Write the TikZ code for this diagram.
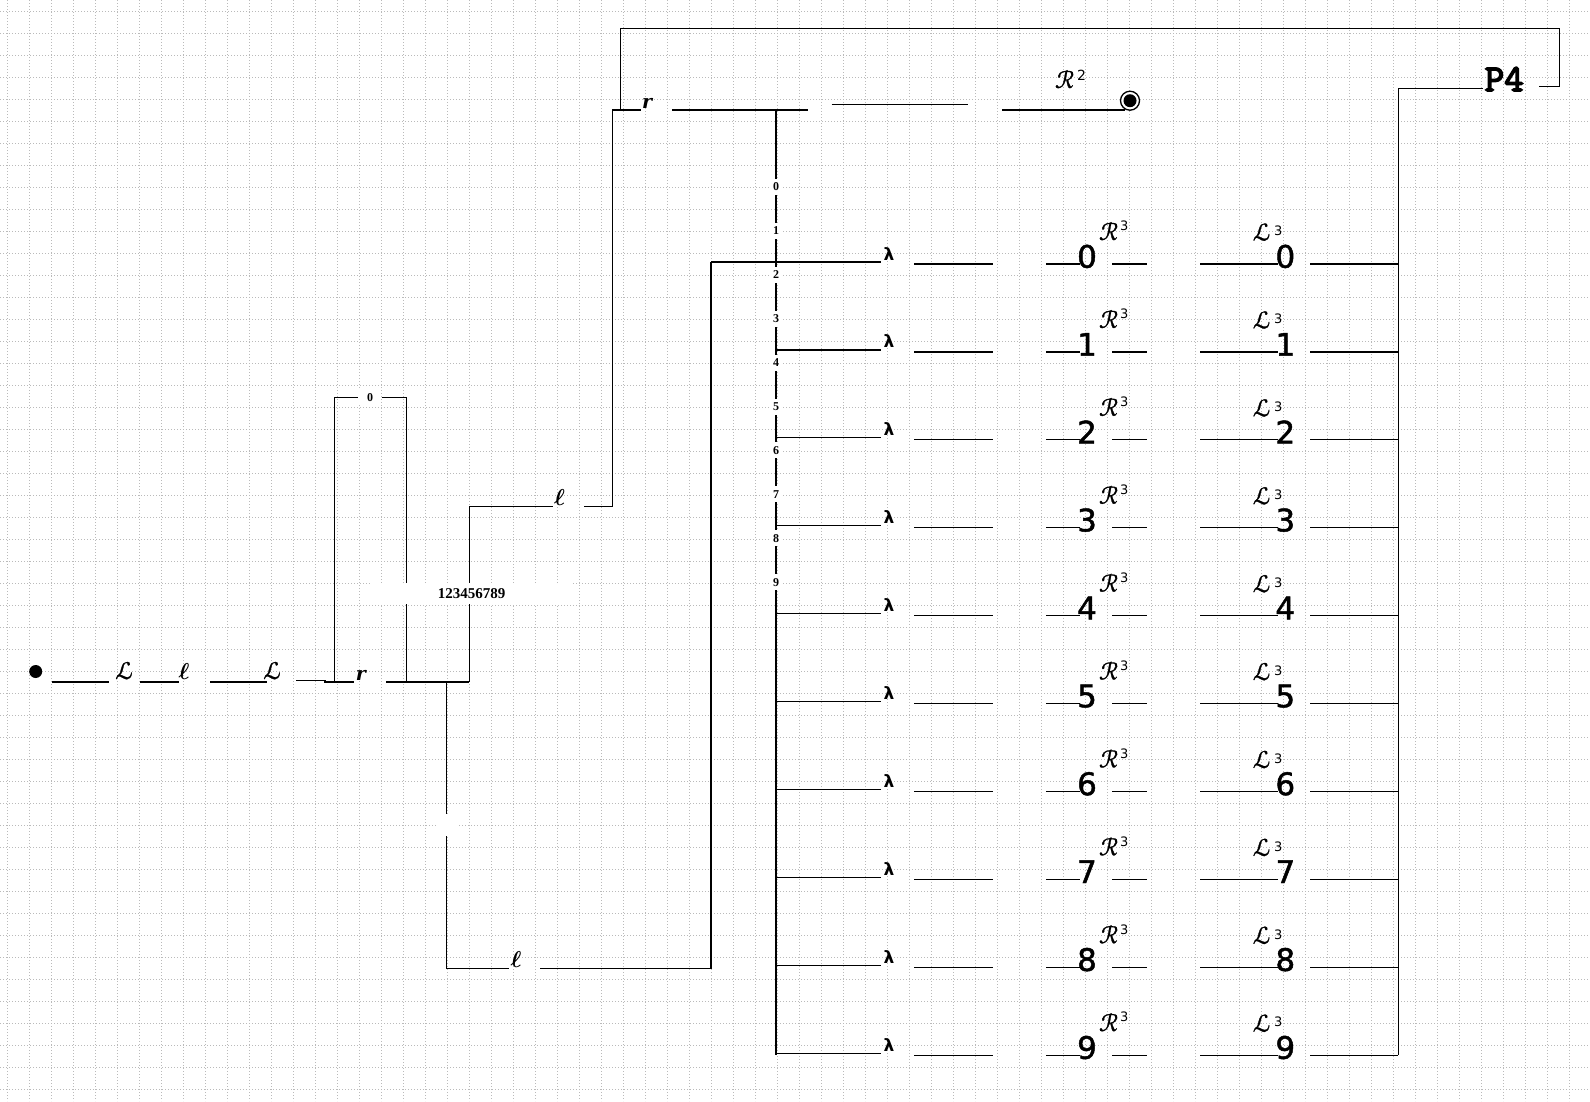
\documentclass[tikz,border=0pt]{standalone}
\usepackage{fix-cm}
\usepackage{fontspec}
\newfontfamily\fSym{DejaVu Sans}
\newfontfamily\fScr{DejaVu Sans}[FakeSlant=0.18, FakeBold=1.2]
\newfontfamily\fDig{DejaVu Sans}[FakeBold=1.5]
\newfontfamily\fSer{DejaVu Serif}
\newfontfamily\fTT{Latin Modern Mono}[FakeBold=4]
\newfontfamily\fLib{Liberation Serif}
\begin{document}
\begin{tikzpicture}[x=1pt,y=-1pt,
  gridl/.style={draw=black!27, line width=0.7pt, dash pattern=on 1pt off 2pt},
  ln/.style={draw=black, line width=1.2pt},
  scr/.style={inner sep=0pt, anchor=base, font=\fScr\fontsize{23}{23}\selectfont},
  ellx/.style={inner sep=0pt, anchor=base, font=\boldmath\fontsize{23}{23}\selectfont},
  ital/.style={inner sep=0pt, anchor=base, font=\fSer\bfseries\itshape\fontsize{19}{19}\selectfont},
  lam/.style={inner sep=0pt, anchor=base, font=\fSym\bfseries\fontsize{17}{17}\selectfont},
  big/.style={inner sep=0pt, anchor=base, font=\fDig\fontsize{31}{31}\selectfont},
  supx/.style={inner sep=0pt, anchor=north west, font=\fSym\fontsize{13}{13}\selectfont},
  tag/.style={inner sep=0pt, fill=white, minimum width=14pt, minimum height=16pt, font=\fLib\bfseries\fontsize{12}{12}\selectfont},
  ptext/.style={inner sep=0pt, anchor=base, font=\fTT\fontsize{38}{38}\selectfont},
  ]
\useasboundingbox (0,0) rectangle (1590,1101);
\fill[white] (0,0) rectangle (1590,1101);
% grid
\foreach \i in {0,...,72} \draw[gridl] ({7.3+22*\i},0) -- ({7.3+22*\i},1101);
\foreach \j in {0,...,49} \draw[gridl] (0,{11.3+22*\j}) -- (1590,{11.3+22*\j});

% ---------- main row ----------
\node[circle,fill=black,inner sep=0pt,minimum size=13pt] (start) at (35.7,671.5) {};
\coordinate (m1) at (52.3,682); \coordinate (m2) at (108.7,682);
\node[scr] (nL1) at (123.5,679) {ℒ};
\coordinate (m3) at (140,682); \coordinate (m4) at (179,682);
\node[ellx] (nl1) at (184,679) {$\ell$};
\coordinate (m5) at (210,682); \coordinate (m6) at (266.7,682);
\node[scr] (nL2) at (271.5,679) {ℒ};
\coordinate (m7) at (296,680.3); \coordinate (m8) at (325,680.3);
\coordinate (m9) at (325,682); \coordinate (m10) at (354.3,682);
\node[ital] (nr1) at (361,680) {r};
\coordinate (m11) at (386,682); \coordinate (m12) at (469.3,682);
\draw[ln] (m1)--(m2) (m3)--(m4) (m5)--(m6) (m7)--(m8)--(m9)--(m10) (m11)--(m12);

% ---------- zero loop ----------
\coordinate (z1) at (334.3,682); \coordinate (z2) at (334.3,397.3); \coordinate (z3) at (358.3,397.3);
\coordinate (z4) at (381.7,397.3); \coordinate (z5) at (406.7,397.3); \coordinate (z6) at (406.7,682);
\draw[ln] (z1)--(z2)--(z3) (z4)--(z5)--(z6);

% ---------- upper l branch ----------
\coordinate (u1) at (469.3,682); \coordinate (u2) at (469.3,506.7); \coordinate (u3) at (552.7,506.7);
\node[ellx] (nl2) at (559.5,505) {$\ell$};
\coordinate (u4) at (584,506.7); \coordinate (u5) at (612.3,506.7);
\coordinate (u6) at (612.3,110); \coordinate (u7) at (640.7,110);
\node[ital] (nr2) at (647,108) {r};
\coordinate (u8) at (672.3,110); \coordinate (u9) at (808.3,110);
\draw[ln] (u1)--(u2)--(u3) (u4)--(u5)--(u6)--(u7) (u8)--(u9);

% ---------- top loop ----------
\coordinate (o1) at (620.5,110); \coordinate (o2) at (620.5,28.4); \coordinate (o3) at (1559.3,28.4);
\coordinate (o4) at (1559.3,86.3); \coordinate (o5) at (1539,86.3);
\draw[ln] (o1)--(o2)--(o3)--(o4)--(o5);
\node[ptext] (np4) at (1504.2,91) {P4};
\coordinate (o6) at (1483,88.3); \coordinate (o7) at (1398.3,88.3); \coordinate (o8) at (1398.3,1055.1);
\draw[ln] (o6)--(o7)--(o8);

% ---------- top row continued ----------
\coordinate (v1) at (831.5,104.4); \coordinate (v2) at (968.4,104.4);
\coordinate (v3) at (1002,110); \coordinate (v4) at (1125,110);
\draw[ln] (v1)--(v2) (v3)--(v4);
\node[scr] (nR2) at (1064,88) {ℛ};
\node[supx, font=\fSym\fontsize{14}{14}\selectfont] (n2) at (1077,70) {2};
\node[circle,draw=black,line width=1.3pt,minimum size=19pt,inner sep=0pt,fill=white] (endm) at (1130,100.7) {};
\fill[black] (endm.center) circle (6.5pt);

% ---------- spine ----------
\coordinate (s1) at (776,110); \coordinate (s2) at (776,1055.1);
\draw[ln] (s1)--(s2);

% ---------- lower l branch ----------
\coordinate (w1) at (446.7,682); \coordinate (w2) at (446.7,968.3); \coordinate (w3) at (509.3,968.3);
\node[ellx] (nl3) at (516,967) {$\ell$};
\coordinate (w4) at (540,968.3); \coordinate (w5) at (711,968.3); \coordinate (w6) at (711,262.3);
\draw[ln] (w1)--(w2)--(w3) (w4)--(w5)--(w6);
\node[fill=white,inner sep=0pt,minimum width=21pt,minimum height=22pt] (gapbox) at (447.5,825) {};

% ---------- rows ----------
\foreach \k in {0,...,9}{
  \pgfmathsetmacro{\yy}{264+87.9*\k}
  \pgfmathsetmacro{\xs}{ifthenelse(\k==0,711,776)}
  \coordinate (rs\k) at (\xs,\yy-2); \coordinate (re\k) at (880.7,\yy-2);
  \draw[ln] (rs\k) -- (re\k);
  \node[lam] (lam\k) at (889,\yy-4) {λ};
  \coordinate (pa\k) at (914,\yy); \coordinate (pb\k) at (992.7,\yy);
  \coordinate (qa\k) at (1046,\yy); \coordinate (qb\k) at (1080,\yy);
  \coordinate (qc\k) at (1112,\yy); \coordinate (qd\k) at (1146.7,\yy);
  \coordinate (ra\k) at (1200,\yy); \coordinate (rb\k) at (1278,\yy);
  \coordinate (rc\k) at (1310,\yy); \coordinate (rd\k) at (1398.3,\yy);
  \draw[ln] (pa\k)--(pb\k) (qa\k)--(qb\k) (qc\k)--(qd\k) (ra\k)--(rb\k) (rc\k)--(rd\k);
  \node[big] (da\k) at (1087,\yy+3.7) {\k};
  \node[scr] (rr\k) at (1108,\yy-24) {ℛ};
  \node[supx] (rt\k) at (1120,\yy-43) {3};
  \node[big] (db\k) at (1285.3,\yy+3.7) {\k};
  \node[scr] (lr\k) at (1261,\yy-23.5) {ℒ};
  \node[supx] (lt\k) at (1274,\yy-38) {3};
}

% ---------- spine tags ----------
\foreach \k in {0,...,9}{
  \node[tag] (sp\k) at (776,{187+43.9*\k}) {\k};
}
\node[tag, minimum width=22pt] (n0) at (370,397.3) {0};
\node[fill=white,inner sep=0pt,minimum width=203pt,minimum height=21pt,
      font=\fLib\bfseries\fontsize{15}{15}\selectfont] (digits) at (471.5,593.5) {123456789};
\end{tikzpicture}
\end{document}
